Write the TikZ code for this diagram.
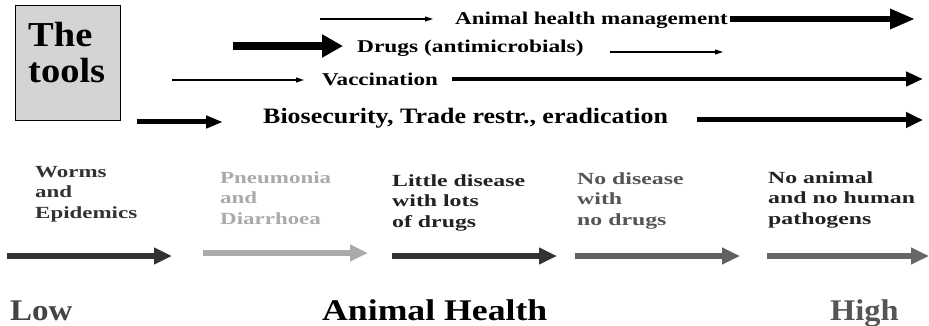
\documentclass[tikz,border=0pt]{standalone}
\usepackage{fontspec}
\setmainfont{Liberation Serif}
\usepackage{graphicx}
\usetikzlibrary{arrows.meta}
\definecolor{boxgray}{HTML}{D4D4D4}
\definecolor{cA}{HTML}{333333}
\definecolor{cB}{HTML}{AAAAAA}
\definecolor{cC}{HTML}{222222}
\definecolor{cD}{HTML}{555555}
\definecolor{cE}{HTML}{222222}
\definecolor{aA}{HTML}{333333}
\definecolor{aB}{HTML}{AAAAAA}
\definecolor{aC}{HTML}{333333}
\definecolor{aD}{HTML}{606060}
\definecolor{aE}{HTML}{666666}
\newcommand\sx[2]{\scalebox{#1}[1]{#2}}
\newcommand\lines[1]{\begin{tabular}[t]{@{}l@{}}#1\end{tabular}}
\begin{document}
\begin{tikzpicture}[x=1pt,y=-1pt,
  lbl/.style={anchor=base west, inner sep=0pt, font=\bfseries},
  toptxt/.style={lbl, font=\bfseries\fontsize{18}{20}\selectfont},
  midtxt/.style={lbl, font=\bfseries\fontsize{17}{20.5}\selectfont},
  bottxt/.style={lbl, font=\bfseries\fontsize{30}{32}\selectfont},
  thinarrow/.style={line width=1.1pt, -{Triangle[length=8pt,width=5pt]}},
  stagearrow/.style={line width=5.5pt, -{Triangle[length=18pt,width=16pt]}}]
\useasboundingbox (0,0) rectangle (929,326);

% The tools box
\node (box) [draw=black, line width=0.8pt, fill=boxgray, anchor=north west,
  minimum width=105pt, minimum height=115pt, inner sep=0pt] at (15,5) {};
\node (tools) [lbl, font=\bfseries\fontsize{35}{36}\selectfont] at (28,47)
  {\sx{1.1}{\lines{The\\tools}}};

% Row 1
\coordinate (r1a) at (320,19); \coordinate (r1b) at (433,19);
\draw[thinarrow] (r1a) -- (r1b);
\node (ahm) [toptxt] at (455,25) {\sx{1.28}{Animal health management}};
\coordinate (r1c) at (730,19); \coordinate (r1d) at (915,19);
\draw[line width=6pt, -{Triangle[length=25pt,width=19pt]}] (r1c) -- (r1d);

% Row 2
\coordinate (r2a) at (233,46); \coordinate (r2b) at (343,46);
\draw[line width=8pt, -{Triangle[length=21pt,width=22pt]}] (r2a) -- (r2b);
\node (drugs) [toptxt] at (357,53) {\sx{1.3}{Drugs (antimicrobials)}};
\coordinate (r2c) at (610,52); \coordinate (r2d) at (723,52);
\draw[thinarrow] (r2c) -- (r2d);

% Row 3
\coordinate (r3a) at (172,80); \coordinate (r3b) at (304,80);
\draw[thinarrow] (r3a) -- (r3b);
\node (vacc) [toptxt] at (322,86) {\sx{1.28}{Vaccination}};
\coordinate (r3c) at (452,79); \coordinate (r3d) at (923,79);
\draw[line width=4.5pt, -{Triangle[length=17pt,width=14pt]}] (r3c) -- (r3d);

% Row 4
\coordinate (r4a) at (137,122); \coordinate (r4b) at (223,122);
\draw[line width=5pt, -{Triangle[length=17pt,width=12pt]}] (r4a) -- (r4b);
\node (bio) [lbl, font=\bfseries\fontsize{22}{24}\selectfont] at (263,124)
  {\sx{1.18}{Biosecurity, Trade restr., eradication}};
\coordinate (r4c) at (697,120); \coordinate (r4d) at (923,120);
\draw[line width=5pt, -{Triangle[length=17pt,width=15pt]}] (r4c) -- (r4d);

% Stages
\node (s1) [midtxt, text=cA] at (35,177) {\sx{1.35}{\lines{Worms\\and\\Epidemics}}};
\node (s2) [midtxt, text=cB] at (220,183) {\sx{1.35}{\lines{Pneumonia\\and\\Diarrhoea}}};
\node (s3) [midtxt, text=cC] at (392,186) {\sx{1.4}{\lines{Little disease\\with lots\\of drugs}}};
\node (s4) [midtxt, text=cD] at (577,184) {\sx{1.4}{\lines{No disease\\with\\no drugs}}};
\node (s5) [midtxt, text=cE] at (768,183) {\sx{1.4}{\lines{No animal\\and no human\\pathogens}}};

\coordinate (a1s) at (7,256);   \coordinate (a1e) at (172,256);
\coordinate (a2s) at (203,253);  \coordinate (a2e) at (368,253);
\coordinate (a3s) at (392,256); \coordinate (a3e) at (557,256);
\coordinate (a4s) at (575,256); \coordinate (a4e) at (740,256);
\coordinate (a5s) at (767,256); \coordinate (a5e) at (929,256);
\draw[stagearrow, aA] (a1s) -- (a1e);
\draw[stagearrow, aB] (a2s) -- (a2e);
\draw[stagearrow, aC] (a3s) -- (a3e);
\draw[stagearrow, aD] (a4s) -- (a4e);
\draw[stagearrow, aE] (a5s) -- (a5e);

% Bottom scale
\node (low) [bottxt, text=cD!80!black] at (10,320) {\sx{1.1}{Low}};
\node (ah) [bottxt, text=black] at (322,320) {\sx{1.19}{Animal Health}};
\node (high) [bottxt, text=cD] at (830,320) {\sx{1.08}{High}};
\end{tikzpicture}
\end{document}
